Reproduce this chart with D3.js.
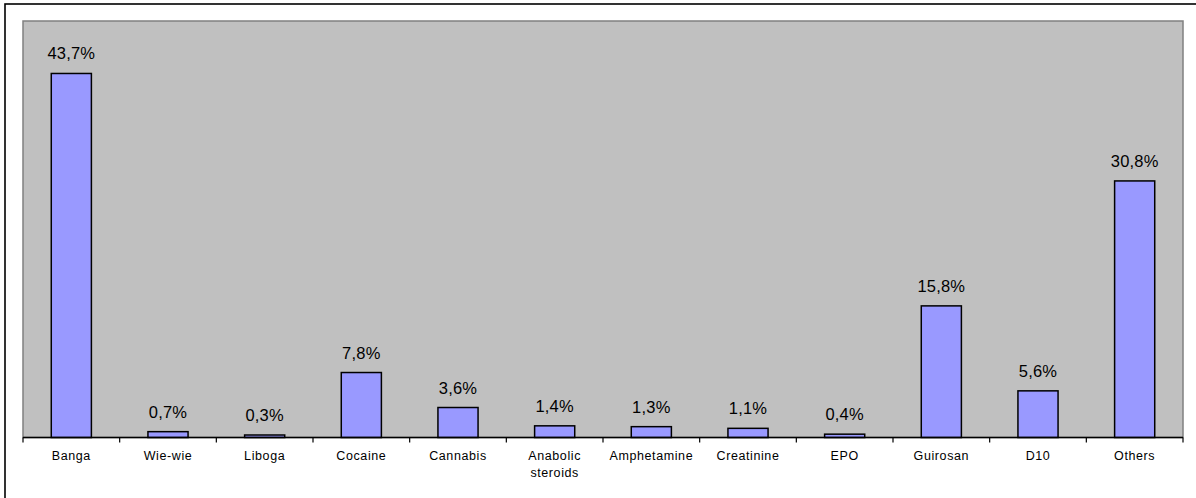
<!DOCTYPE html>
<html>
<head>
<meta charset="utf-8">
<script src="https://cdn.jsdelivr.net/npm/d3@7"></script>
<style>
  html, body { margin: 0; padding: 0; background: #fff; }
  svg { display: block; }
  text { font-family: "Liberation Sans", Arial, sans-serif; fill: #000; }
</style>
</head>
<body>
<svg id="chart" width="1196" height="498"></svg>
<script>
// Substances reported (share of respondents, %)
const categories = ["Banga", "Wie-wie", "Liboga", "Cocaine", "Cannabis", "Anabolic steroids",
  "Amphetamine", "Creatinine", "EPO", "Guirosan", "D10", "Others"];
const values = [43.7, 0.7, 0.3, 7.8, 3.6, 1.4, 1.3, 1.1, 0.4, 15.8, 5.6, 30.8];
const valueLabels = ["43,7%", "0,7%", "0,3%", "7,8%", "3,6%", "1,4%", "1,3%", "1,1%", "0,4%", "15,8%", "5,6%", "30,8%"];
const categoryLines = [["Banga"], ["Wie-wie"], ["Liboga"], ["Cocaine"], ["Cannabis"], ["Anabolic", "steroids"],
  ["Amphetamine"], ["Creatinine"], ["EPO"], ["Guirosan"], ["D10"], ["Others"]];
const yDomain = [0, 50];

const svg = d3.select("#chart");
const W = 1196, H = 498;

// outer frame
svg.append("rect")
  .attr("x", 5).attr("y", 4)
  .attr("width", W + 10).attr("height", H + 10)
  .attr("fill", "#fff")
  .attr("stroke", "#000").attr("stroke-width", 1.6);

const plot = { left: 23, top: 21, right: 1183, bottom: 437.5 };

const x = d3.scaleBand()
  .domain(categories)
  .range([plot.left, plot.right])
  .paddingInner(0.585)
  .paddingOuter(0.2925);

const y = d3.scaleLinear()
  .domain(yDomain)
  .range([plot.bottom, plot.top]);

// plot background
svg.append("rect")
  .attr("x", plot.left).attr("y", plot.top)
  .attr("width", plot.right - plot.left).attr("height", plot.bottom - plot.top)
  .attr("fill", "#C0C0C0")
  .attr("stroke", "#808080").attr("stroke-width", 1.5);

// bars
svg.append("g").selectAll("rect")
  .data(values)
  .join("rect")
  .attr("x", (d, i) => x(categories[i]))
  .attr("y", d => y(d))
  .attr("width", x.bandwidth())
  .attr("height", d => y(0) - y(d))
  .attr("fill", "#9999FF")
  .attr("stroke", "#000").attr("stroke-width", 1.5);

// value labels
svg.append("g").selectAll("text")
  .data(values)
  .join("text")
  .attr("x", (d, i) => x(categories[i]) + x.bandwidth() / 2)
  .attr("y", d => y(d) - 14)
  .attr("text-anchor", "middle")
  .attr("font-size", 16.5)
  .attr("letter-spacing", 0.2)
  .text((d, i) => valueLabels[i]);

// category axis with ticks at category boundaries
const step = x.step();
const boundaries = d3.range(categories.length + 1).map(i => plot.left + i * step);
const axis = svg.append("g");
axis.append("line")
  .attr("x1", plot.left).attr("x2", plot.right)
  .attr("y1", plot.bottom).attr("y2", plot.bottom)
  .attr("stroke", "#000").attr("stroke-width", 1.5);
axis.selectAll("line.tick")
  .data(boundaries)
  .join("line")
  .attr("class", "tick")
  .attr("x1", d => d).attr("x2", d => d)
  .attr("y1", plot.bottom).attr("y2", plot.bottom + 5)
  .attr("stroke", "#000").attr("stroke-width", 1.2);

const labels = axis.selectAll("text.cat")
  .data(categories)
  .join("text")
  .attr("class", "cat")
  .attr("x", d => x(d) + x.bandwidth() / 2)
  .attr("y", 460)
  .attr("text-anchor", "middle")
  .attr("font-size", 12.5)
  .attr("letter-spacing", 0.6);
labels.each(function(d, i) {
  const t = d3.select(this);
  categoryLines[i].forEach((line, j) => {
    t.append("tspan")
      .attr("x", x(d) + x.bandwidth() / 2)
      .attr("dy", j === 0 ? 0 : 17)
      .text(line);
  });
});
</script>
</body>
</html>
